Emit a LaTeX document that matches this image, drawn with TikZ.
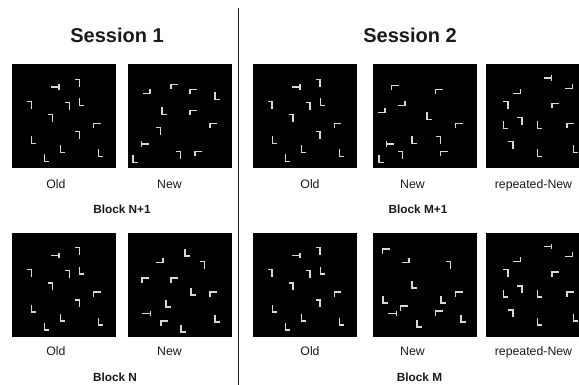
\documentclass[tikz,border=0pt]{standalone}
\usepackage{fontspec}
\setmainfont{Liberation Sans}
\usetikzlibrary{positioning}
\definecolor{stim}{HTML}{D8D8D8}
\definecolor{ink}{HTML}{1A1A1A}
\tikzset{
  display/.style={fill=black,minimum width=104pt,minimum height=104pt,inner sep=0pt,anchor=north west},
  glyph/.style={draw=stim,line width=1.4pt},
  cond/.style={anchor=base,inner sep=0pt,text=ink,font=\fontsize{12.3}{14}\selectfont},
  blocklabel/.style={anchor=base,inner sep=0pt,text=ink,font=\fontsize{11.8}{14}\selectfont\bfseries},
  session/.style={anchor=base,inner sep=0pt,text=ink,font=\fontsize{20}{22}\selectfont\bfseries},
  divider/.style={draw=ink,line width=0.9pt}
}
% distractor L's: x/y/angle, measured from the display's top left corner
\newcommand\oldLs{65/19/180,17/41/180,55/42/180,70/38/0,38/54/180,85/62/270,65/71/180,22/76/0,51/85/0,35/94/0,89/89/0}
\newcommand\nplusLs{19/27/90,47/23/270,66/28/270,90/32/0,37/47/0,66/49/270,31/67/180,86/62/270,8/95/0,51/91/180,71/90/270}
\newcommand\mplusLs{22/24/270,28/39/90,8/46/90,66/28/270,56/52/0,86/62/270,41/76/0,65/76/180,27/91/180,8/95/0,71/90/270}
\newcommand\repLs{83/22/90,31/27/90,20/41/180,70/42/270,20/61/0,34/57/180,54/61/0,85/62/270,25/81/180,54/89/0,90/85/0}
\newcommand\nLs{60/20/0,32/28/90,75/33/180,18/48/270,47/48/270,66/59/0,86/62/270,41/71/0,90/86/0,37/91/270,56/96/0}
\newcommand\mLs{13/19/270,32/28/90,75/33/180,41/52/0,12/67/0,70/67/0,86/62/270,31/76/270,66/81/270,46/91/0,90/86/0}
% #1 display node, #2/#3/#4 target T, #5 list of L's
\newcommand\stimuli[5]{%
  \begin{scope}[shift={(#1.north west)}]
    \draw[glyph,shift={(#2,#3)},rotate=#4] (-4,-2.6) -- (-4,2.6) (-4,0) -- (4,0);
    \foreach \gx/\gy/\ga in #5 {
      \draw[glyph,shift={(\gx,\gy)},rotate=\ga] (-2.3,-3.6) -- (-2.3,3.6) -- (2.3,3.6);
    }
  \end{scope}}

\begin{document}
\begin{tikzpicture}[x=1pt,y=-1pt]
  \useasboundingbox (0,0) rectangle (579,385);
  \clip (0,0) rectangle (579,385);

  \node[session] (sess1) at (117,42.4) {Session 1};
  \node[session] (sess2) at (410,42.4) {Session 2};
  \coordinate (divtop) at (238,8);
  \coordinate (divbot) at (238,385);
  \draw[divider] (divtop) -- (divbot);

  % block N+1 and M+1
  \node[display] (n1old) at (12,64) {};
  \node[display,right=11pt of n1old] (n1new) {};
  \node[display,right=21pt of n1new] (m1old) {};
  \node[display,right=16pt of m1old] (m1new) {};
  \node[display,right=8pt of m1new] (m1rep) {};
  % block N and M
  \node[display,below=64pt of n1old] (nold) {};
  \node[display,below=64pt of n1new] (nnew) {};
  \node[display,below=64pt of m1old] (mold) {};
  \node[display,below=64pt of m1new] (mnew) {};
  \node[display,below=64pt of m1rep] (mrep) {};

  \stimuli{n1old}{43}{23}{180}{\oldLs}
  \stimuli{n1new}{18}{80}{0}{\nplusLs}
  \stimuli{m1old}{43}{23}{180}{\oldLs}
  \stimuli{m1new}{17}{80}{0}{\mplusLs}
  \stimuli{m1rep}{62}{14}{180}{\repLs}
  \stimuli{nold}{43}{23}{180}{\oldLs}
  \stimuli{nnew}{19}{81}{180}{\nLs}
  \stimuli{mold}{43}{23}{180}{\oldLs}
  \stimuli{mnew}{19}{81}{180}{\mLs}
  \stimuli{mrep}{62}{14}{180}{\repLs}

  \node[cond] (n1oldlab) at (56,188.4) {Old};
  \node[cond] (n1newlab) at (169.5,188.4) {New};
  \node[cond] (m1oldlab) at (310,188.4) {Old};
  \node[cond] (m1newlab) at (412.5,188.4) {New};
  \node[cond] (m1replab) at (533.5,188.4) {repeated-New};
  \node[blocklabel] (blkn1) at (122,214) {Block N+1};
  \node[blocklabel] (blkm1) at (418,214) {Block M+1};

  \node[cond] (noldlab) at (56,355.7) {Old};
  \node[cond] (nnewlab) at (169.5,355.7) {New};
  \node[cond] (moldlab) at (310,355.7) {Old};
  \node[cond] (mnewlab) at (412.5,355.7) {New};
  \node[cond] (mreplab) at (533.5,355.7) {repeated-New};
  \node[blocklabel] (blkn) at (115,381) {Block N};
  \node[blocklabel] (blkm) at (419.5,381) {Block M};
\end{tikzpicture}
\end{document}
